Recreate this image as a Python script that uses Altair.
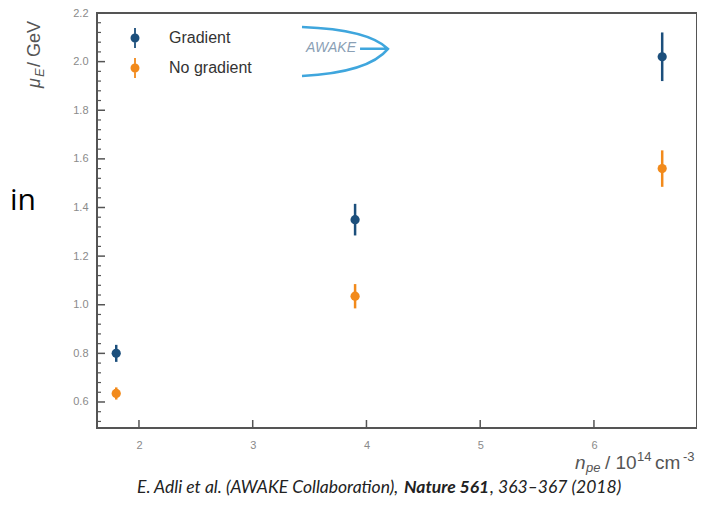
import altair as alt
import pandas as pd

# ---- data ----
series = ["Gradient", "Gradient", "Gradient", "No gradient", "No gradient", "No gradient"]
density = [1.8, 3.9, 6.6, 1.8, 3.9, 6.6]          # n_pe / 1e14 cm^-3
energy = [0.80, 1.35, 2.02, 0.635, 1.035, 1.56]    # mu_E / GeV
error = [0.035, 0.065, 0.10, 0.025, 0.05, 0.075]   # error bar half-length

x_ticks = [2, 3, 4, 5, 6]
y_major = [0.6, 0.8, 1.0, 1.2, 1.4, 1.6, 1.8, 2.0, 2.2]
y_minor = [0.52, 0.56, 0.64, 0.68, 0.72, 0.76, 0.84, 0.88, 0.92, 0.96,
           1.04, 1.08, 1.12, 1.16, 1.24, 1.28, 1.32, 1.36, 1.44, 1.48, 1.52, 1.56,
           1.64, 1.68, 1.72, 1.76, 1.84, 1.88, 1.92, 1.96, 2.04, 2.08, 2.12, 2.16]

legend_labels = ["Gradient", "No gradient"]
colors = ["#1c4f7c", "#f28a1b"]

caption_parts = ["E. Adli et al. (AWAKE Collaboration), ", "Nature 561", ", 363\u2013367 (2018)"]
xtitle_parts = ["n", "pe", "/ 10", "14", "cm", "-3"]
ytitle_parts = ["\u03bc", "E", "/ GeV"]
logo_text = ["AWAKE"]
slide_text = ["in"]

W, H = 600, 415
X_DOM = [1.631, 6.906]
Y_DOM = [0.493, 2.2]

df = pd.DataFrame({"series": series, "n": density, "mu": energy, "err": error})
df["lo"] = df["mu"] - df["err"]
df["hi"] = df["mu"] + df["err"]

xs = alt.Scale(domain=X_DOM, nice=False, zero=False)
ys = alt.Scale(domain=Y_DOM, nice=False, zero=False)
cs = alt.Scale(domain=legend_labels, range=colors)

# tick lengths expressed in data units (8 px / 4 px inward)
xu = (X_DOM[1] - X_DOM[0]) / W
yu = (Y_DOM[1] - Y_DOM[0]) / H
ymaj_df = pd.DataFrame({"ty": y_major, "tx0": X_DOM[0], "tx1": X_DOM[0] + 8 * xu})
ymin_df = pd.DataFrame({"ty": y_minor, "tx0": X_DOM[0], "tx1": X_DOM[0] + 4 * xu})
xmaj_df = pd.DataFrame({"tx": x_ticks, "ty0": Y_DOM[0], "ty1": Y_DOM[0] + 8 * yu})

LEG_PATH = ("M-0.09,-1 L0.09,-1 L0.09,1 L-0.09,1 Z "
            "M-0.45,0 A0.45,0.45 0 1,1 0.45,0 A0.45,0.45 0 1,1 -0.45,0 Z")
LOGO_PATH = ("M-1,-0.56 Q0.55,-0.5 1,-0.05 Q0.55,0.5 -1,0.58 "
             "M0.35,-0.05 L0.97,-0.05")

legend = alt.Legend(title=None, orient="none", legendX=28, legendY=15,
                    symbolType=LEG_PATH, symbolSize=400,
                    labelFontSize=16, labelFont="Liberation Sans",
                    labelColor="#333333", rowPadding=10, labelOffset=24,
                    padding=0, symbolStrokeWidth=0)

bars = alt.Chart(df).mark_rule(strokeWidth=2.5).encode(
    x=alt.X("n:Q", scale=xs, title=None,
            axis=alt.Axis(values=x_ticks, format="d", ticks=False, domain=False, grid=False,
                          labelFontSize=11, labelColor="#8a8a8a", labelPadding=11,
                          labelFont="Liberation Sans")),
    y=alt.Y("lo:Q", scale=ys, title=None,
            axis=alt.Axis(values=y_major, ticks=False, domain=False, grid=False, format=".1f",
                          labelFontSize=11, labelColor="#8a8a8a", labelPadding=9,
                          labelFont="Liberation Sans")),
    y2="hi:Q",
    color=alt.Color("series:N", scale=cs, legend=legend),
)

pts = alt.Chart(df).mark_circle(size=85, opacity=1).encode(
    x=alt.X("n:Q", scale=xs, title=None),
    y=alt.Y("mu:Q", scale=ys, title=None),
    color=alt.Color("series:N", scale=cs, legend=legend),
)

tick_col = "#555555"
ymaj = alt.Chart(ymaj_df).mark_rule(color=tick_col, strokeWidth=1.5).encode(
    x=alt.X("tx0:Q", scale=xs, title=None), x2="tx1:Q",
    y=alt.Y("ty:Q", scale=ys, title=None))
ymin = alt.Chart(ymin_df).mark_rule(color=tick_col, strokeWidth=1.2).encode(
    x=alt.X("tx0:Q", scale=xs, title=None), x2="tx1:Q",
    y=alt.Y("ty:Q", scale=ys, title=None))
xmaj = alt.Chart(xmaj_df).mark_rule(color=tick_col, strokeWidth=1.5).encode(
    x=alt.X("tx:Q", scale=xs, title=None),
    y=alt.Y("ty0:Q", scale=ys, title=None), y2="ty1:Q")

one = pd.DataFrame({"k": [0]})


def txt(s, x, y, **kw):
    return alt.Chart(one).mark_text(text=s, **kw).encode(x=alt.value(x), y=alt.value(y))


title_col = "#555555"
annots = [
    # x axis title
    txt(xtitle_parts[0], 478, 456, align="left", baseline="alphabetic", fontSize=19,
        fontStyle="italic", font="Liberation Sans", color=title_col),
    txt(xtitle_parts[1], 489, 459, align="left", baseline="alphabetic", fontSize=13,
        fontStyle="italic", font="Liberation Sans", color=title_col),
    txt(xtitle_parts[2], 508, 456, align="left", baseline="alphabetic", fontSize=19,
        font="Liberation Sans", color=title_col),
    txt(xtitle_parts[3], 540, 448, align="left", baseline="alphabetic", fontSize=13,
        font="Liberation Sans", color=title_col),
    txt(xtitle_parts[4], 558, 456, align="left", baseline="alphabetic", fontSize=19,
        font="Liberation Sans", color=title_col),
    txt(xtitle_parts[5], 586, 448, align="left", baseline="alphabetic", fontSize=13,
        font="Liberation Sans", color=title_col),
    # y axis title (rotated)
    txt(ytitle_parts[0], -57, 75, align="left", baseline="alphabetic", fontSize=18, angle=270,
        fontStyle="italic", font="Liberation Sans", color=title_col),
    txt(ytitle_parts[1], -53, 64, align="left", baseline="alphabetic", fontSize=13, angle=270,
        fontStyle="italic", font="Liberation Sans", color=title_col),
    txt(ytitle_parts[2], -57, 54, align="left", baseline="alphabetic", fontSize=18, angle=270,
        font="Liberation Sans", color=title_col),
    # logo
    alt.Chart(one).mark_point(shape=LOGO_PATH, filled=False, size=86 * 86, color="#3fa6dd",
                              strokeWidth=2.5, opacity=1).encode(x=alt.value(248), y=alt.value(38)),
    txt(logo_text[0], 234, 35, align="center", baseline="middle", fontSize=14,
        fontStyle="italic", font="Liberation Sans", color="#8aa0b5"),
    # slide fragment
    txt(slide_text[0], -87, 197, align="left", baseline="alphabetic", fontSize=30,
        font="Open Sans", color="#000000"),
    # caption
    txt(caption_parts[0], 40, 480, align="left", baseline="alphabetic", fontSize=17.5,
        fontStyle="italic", font="Lato", color="#222222"),
    txt(caption_parts[1], 307, 480, align="left", baseline="alphabetic", fontSize=17.5,
        fontStyle="italic", fontWeight="bold", font="Lato", color="#222222"),
    txt(caption_parts[2], 393, 480, align="left", baseline="alphabetic", fontSize=17.5,
        fontStyle="italic", font="Lato", color="#222222"),
]

chart = alt.layer(bars, ymin, ymaj, xmaj, pts, *annots).properties(
    width=W, height=H,
    autosize=alt.AutoSizeParams(type="none"),
    padding={"left": 89, "top": 5, "right": 0, "bottom": 69},
).configure_view(stroke="#555555", strokeWidth=2)

chart.save("out.html", embed_options={"renderer": "svg", "actions": False})
